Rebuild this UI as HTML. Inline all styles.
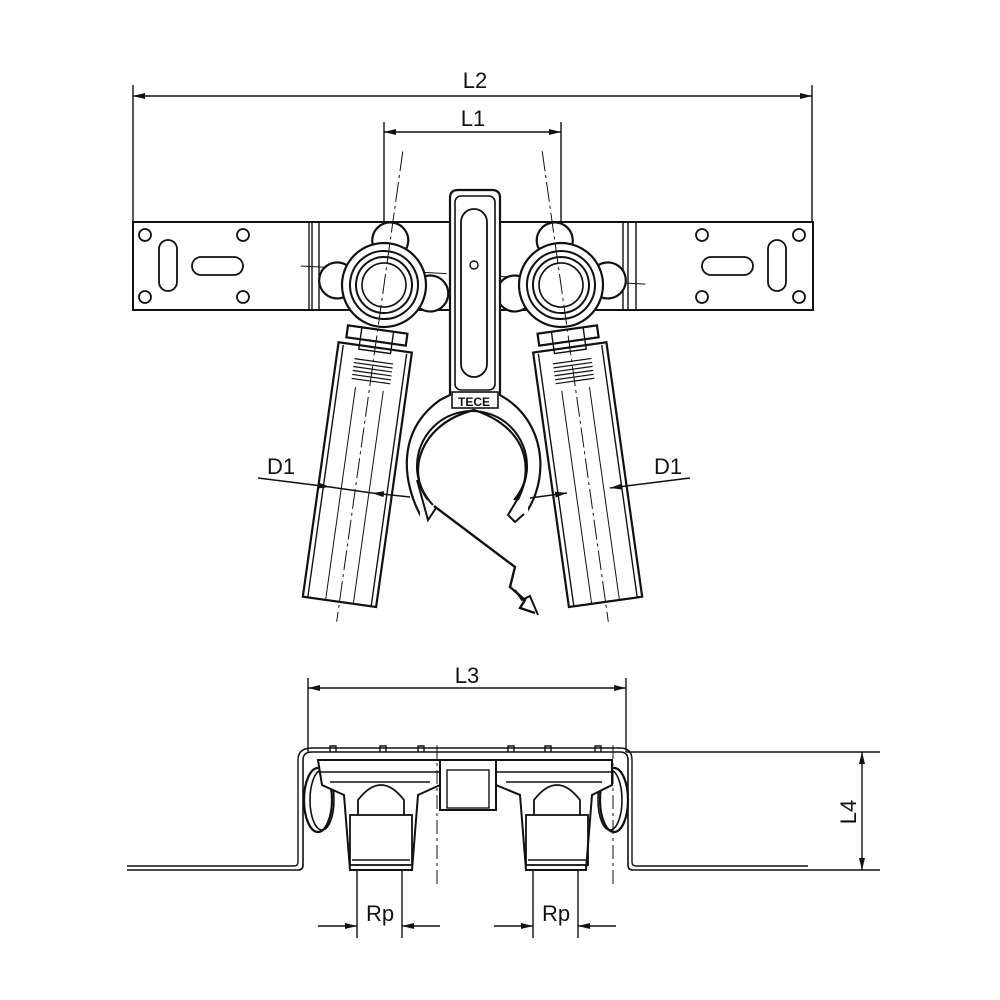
<!DOCTYPE html>
<html><head><style>html,body{margin:0;padding:0;background:#fff}svg{display:block}</style></head>
<body>
<svg width="1000" height="1000" viewBox="0 0 1000 1000" xmlns="http://www.w3.org/2000/svg" font-family="Liberation Sans, sans-serif">
<defs>
<marker id="a" viewBox="0 0 12 6" refX="12" refY="3" markerWidth="12" markerHeight="6" orient="auto-start-reverse" markerUnits="userSpaceOnUse"><path d="M0,0 L12,3 L0,6z" fill="#111"/></marker>
</defs>
<g stroke="#111" fill="none" stroke-width="1.4">
<line x1="133" y1="85" x2="133" y2="222"/><line x1="812" y1="85" x2="812" y2="222"/>
<line x1="133" y1="96" x2="812" y2="96" marker-start="url(#a)" marker-end="url(#a)"/>
<line x1="384" y1="122" x2="384" y2="285"/><line x1="561" y1="122" x2="561" y2="285"/>
<line x1="384" y1="132" x2="561" y2="132" marker-start="url(#a)" marker-end="url(#a)"/>
<rect x="133" y="222" width="680" height="88" stroke-width="2"/>
<line x1="309" y1="222" x2="309" y2="310"/><line x1="312" y1="222" x2="312" y2="310"/><line x1="319" y1="222" x2="319" y2="310"/>
<line x1="623" y1="222" x2="623" y2="310"/><line x1="628" y1="222" x2="628" y2="310"/><line x1="636" y1="222" x2="636" y2="310"/>
<g stroke-width="1.8">
<circle cx="145" cy="235" r="6"/><circle cx="243" cy="235" r="6"/><circle cx="145" cy="297" r="6"/><circle cx="243" cy="297" r="6"/>
<rect x="159" y="240" width="18" height="51" rx="9"/><rect x="192" y="257" width="51" height="18" rx="9"/>
<circle cx="702" cy="235" r="6"/><circle cx="799" cy="235" r="6"/><circle cx="702" cy="297" r="6"/><circle cx="799" cy="297" r="6"/>
<rect x="768" y="240" width="18" height="51" rx="9"/><rect x="702" y="257" width="51" height="18" rx="9"/>
</g>
<line x1="300" y1="275" x2="645" y2="275" stroke-dasharray="26 5 4 5" stroke-width="1" transform="rotate(3,472,285)"/>

<g transform="rotate(8,384,285)">
<g fill="#fff" stroke-width="2.2">
<circle cx="384" cy="240" r="18"/><circle cx="337" cy="287" r="18"/><circle cx="431" cy="287" r="18"/>
<circle cx="384" cy="285" r="42"/>
<rect x="354" y="330" width="60" height="12"/>
<path d="M347,348 L421,348 L421,605 L347,605 Z"/>
</g>
<circle cx="384" cy="285" r="34" stroke-width="2"/><circle cx="384" cy="285" r="28" stroke-width="2"/><circle cx="384" cy="285" r="22" stroke-width="1.6"/>
<rect x="368" y="330" width="32" height="22"/>
<g stroke-width="1.2"><line x1="365" y1="362" x2="404" y2="362"/><line x1="365" y1="366" x2="404" y2="366"/><line x1="365" y1="370" x2="404" y2="370"/><line x1="365" y1="374" x2="404" y2="374"/><line x1="365" y1="378" x2="404" y2="378"/><line x1="365" y1="382" x2="404" y2="382"/></g>
<line x1="352" y1="350" x2="352" y2="605"/><line x1="416" y1="350" x2="416" y2="605"/>
<line x1="370" y1="390" x2="370" y2="605" stroke-width="1"/><line x1="398" y1="390" x2="398" y2="605" stroke-width="1"/>
<line x1="384" y1="150" x2="384" y2="625" stroke-dasharray="20 4 3 4" stroke-width="1"/>
</g>
<g transform="rotate(-8,561,285)">
<g fill="#fff" stroke-width="2.2">
<circle cx="561" cy="240" r="18"/><circle cx="514" cy="287" r="18"/><circle cx="608" cy="287" r="18"/>
<circle cx="561" cy="285" r="42"/>
<rect x="531" y="330" width="60" height="12"/>
<path d="M524,348 L598,348 L598,605 L524,605 Z"/>
</g>
<circle cx="561" cy="285" r="34" stroke-width="2"/><circle cx="561" cy="285" r="28" stroke-width="2"/><circle cx="561" cy="285" r="22" stroke-width="1.6"/>
<rect x="545" y="330" width="32" height="22"/>
<g stroke-width="1.2"><line x1="542" y1="362" x2="581" y2="362"/><line x1="542" y1="366" x2="581" y2="366"/><line x1="542" y1="370" x2="581" y2="370"/><line x1="542" y1="374" x2="581" y2="374"/><line x1="542" y1="378" x2="581" y2="378"/><line x1="542" y1="382" x2="581" y2="382"/></g>
<line x1="529" y1="350" x2="529" y2="605"/><line x1="593" y1="350" x2="593" y2="605"/>
<line x1="547" y1="390" x2="547" y2="605" stroke-width="1"/><line x1="575" y1="390" x2="575" y2="605" stroke-width="1"/>
<line x1="561" y1="150" x2="561" y2="625" stroke-dasharray="20 4 3 4" stroke-width="1"/>
</g>

<g fill="#fff" stroke-width="2.2">
<path d="M423,520 C400,480 398,430 440,400 L450,395 L450,198 Q450,190 458,190 L492,190 Q500,190 500,198 L500,395 L508,400 C550,430 548,490 520,520 L510,512 C535,480 535,430 474,410 C415,425 405,480 433,505 Z"/>
</g>
<rect x="455" y="196" width="40" height="194" rx="6" stroke-width="1.6"/>
<rect x="461" y="209" width="26" height="168" rx="13" stroke-width="1.8"/>
<circle cx="474" cy="265" r="4"/>
<rect x="452" y="392" width="46" height="16" stroke-width="1.6"/>
<text x="474" y="406" font-size="12" fill="#111" stroke="none" text-anchor="middle" font-weight="bold">TECE</text>
<circle cx="472" cy="466" r="55" stroke-width="2"/>
<rect x="420" y="500" width="108" height="30" fill="#fff" stroke="none"/>
<path d="M417,466 A55,55 0 0 0 433,505" stroke-width="2"/>
<path d="M527,466 A55,55 0 0 1 514,500" stroke-width="2"/>
<path d="M417,480 L428,520 L436,508" stroke-width="2"/>
<path d="M520,495 L508,515 L515,522 L524,514" stroke-width="2"/>
<path d="M434,506 L515,567 L510,587 L525,600 L520,608 L535,613" stroke-width="2.4"/>
<path d="M515,590 L522,600 L530,596 L538,615" stroke-width="2"/>

<line x1="258" y1="478" x2="330" y2="487" marker-end="url(#a)"/>
<line x1="410" y1="497" x2="372" y2="493" marker-end="url(#a)"/>
<line x1="330" y1="487" x2="372" y2="493"/>
<line x1="690" y1="478" x2="610" y2="488" marker-end="url(#a)"/>
<line x1="530" y1="498" x2="567" y2="493" marker-end="url(#a)"/>

<line x1="308" y1="678" x2="308" y2="752"/><line x1="626" y1="678" x2="626" y2="752"/>
<line x1="308" y1="688" x2="626" y2="688" marker-start="url(#a)" marker-end="url(#a)"/>
<line x1="626" y1="752" x2="880" y2="752"/><line x1="808" y1="870" x2="880" y2="870"/>
<line x1="862" y1="752" x2="862" y2="870" marker-start="url(#a)" marker-end="url(#a)"/>
<path d="M127,870 L298,870 Q303,870 303,865 L303,760 Q303,752 312,752 L620,752 Q628,752 628,760 L628,865 Q628,870 633,870 L808,870" stroke-width="1.6"/>
<path d="M127,866 L294,866 Q298,866 298,862 L298,760 Q298,748 312,748 L620,748 Q632,748 632,760 L632,862 Q632,866 636,866 L808,866" stroke-width="1.4"/>
<ellipse cx="318" cy="800" rx="14" ry="32" stroke-width="2.2"/><ellipse cx="322" cy="800" rx="12" ry="30" stroke-width="1.6"/>
<ellipse cx="614" cy="800" rx="14" ry="32" stroke-width="2.2"/><ellipse cx="610" cy="800" rx="12" ry="30" stroke-width="1.6"/>
<g fill="#fff" stroke-width="2">
<path d="M318,760 L440,760 L440,785 L418,795 L412,870 L350,870 L344,795 L322,785 Z"/>
<path d="M496,760 L612,760 L612,785 L592,795 L586,870 L526,870 L520,795 L496,785 Z"/>
<rect x="440" y="760" width="56" height="50"/>
</g>
<rect x="447" y="770" width="42" height="38"/>
<line x1="318" y1="772" x2="440" y2="772"/><line x1="496" y1="772" x2="612" y2="772"/>
<line x1="330" y1="782" x2="430" y2="782"/><line x1="506" y1="782" x2="602" y2="782"/>
<path d="M358,815 L358,800 Q381,770 404,800 L404,815" stroke-width="1.8"/>
<path d="M534,815 L534,800 Q557,770 580,800 L580,815" stroke-width="1.8"/>
<rect x="350" y="815" width="62" height="50" stroke-width="1.8"/><rect x="526" y="815" width="62" height="50" stroke-width="1.8"/>
<line x1="352" y1="860" x2="410" y2="860"/><line x1="528" y1="860" x2="586" y2="860"/>
<g stroke-width="1.4">
<path d="M330,752 v-6 h6 v6 M380,752 v-6 h6 v6 M418,752 v-6 h6 v6 M508,752 v-6 h6 v6 M545,752 v-6 h6 v6 M595,752 v-6 h6 v6"/>
</g>
<line x1="437" y1="745" x2="437" y2="885" stroke-dasharray="14 4 3 4" stroke-width="1"/>
<line x1="613" y1="745" x2="613" y2="885" stroke-dasharray="14 4 3 4" stroke-width="1"/>
<line x1="357" y1="870" x2="357" y2="938"/><line x1="402" y1="870" x2="402" y2="938"/>
<line x1="318" y1="926" x2="357" y2="926" marker-end="url(#a)"/><line x1="440" y1="926" x2="402" y2="926" marker-end="url(#a)"/>
<line x1="533" y1="870" x2="533" y2="938"/><line x1="578" y1="870" x2="578" y2="938"/>
<line x1="494" y1="926" x2="533" y2="926" marker-end="url(#a)"/><line x1="616" y1="926" x2="578" y2="926" marker-end="url(#a)"/>
</g>
<g fill="#111" font-size="22">
<text x="475" y="88" text-anchor="middle">L2</text>
<text x="473" y="126" text-anchor="middle">L1</text>
<text x="281" y="474" text-anchor="middle">D1</text>
<text x="668" y="474" text-anchor="middle">D1</text>
<text x="467" y="683" text-anchor="middle">L3</text>
<text x="380" y="921" text-anchor="middle">Rp</text>
<text x="556" y="921" text-anchor="middle">Rp</text>
<text transform="translate(856,812) rotate(-90)" text-anchor="middle">L4</text>
</g>
</svg>
</body></html>
